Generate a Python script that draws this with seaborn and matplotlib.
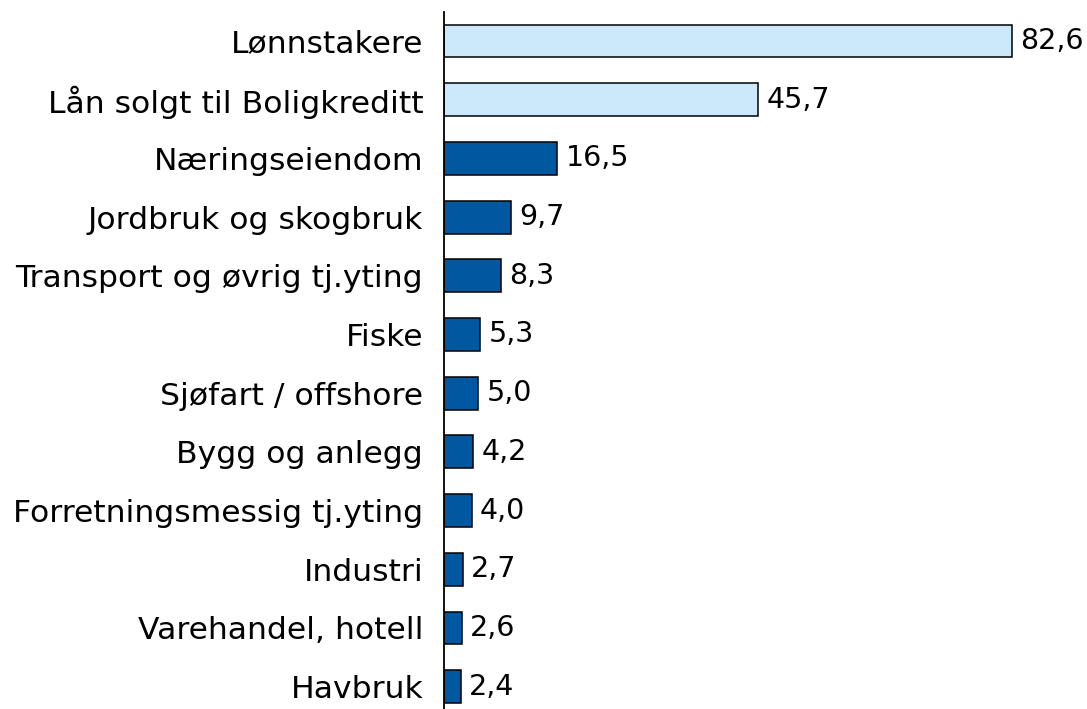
import matplotlib
matplotlib.use("Agg")
import matplotlib.pyplot as plt
import seaborn as sns
import pandas as pd

categories = ["Lønnstakere", "Lån solgt til Boligkreditt", "Næringseiendom",
              "Jordbruk og skogbruk", "Transport og øvrig tj.yting", "Fiske",
              "Sjøfart / offshore", "Bygg og anlegg", "Forretningsmessig tj.yting",
              "Industri", "Varehandel, hotell", "Havbruk"]
values = [82.6, 45.7, 16.5, 9.7, 8.3, 5.3, 5.0, 4.2, 4.0, 2.7, 2.6, 2.4]
groups = ["Personmarked"] * 2 + ["Bedriftsmarked"] * 10
labels = ["82,6", "45,7", "16,5", "9,7", "8,3", "5,3", "5,0", "4,2", "4,0", "2,7", "2,6", "2,4"]

df = pd.DataFrame({"kategori": categories, "verdi": values, "gruppe": groups})

sns.set_style("white")
plt.rcParams["font.family"] = ["DejaVu Sans"]

fig = plt.figure(figsize=(10.87, 7.09), dpi=100)
ax = fig.add_axes([444 / 1087, 0, 1 - 444 / 1087, (709 - 11.6) / 709])

sns.barplot(data=df, x="verdi", y="kategori", hue="gruppe", orient="h",
            palette={"Personmarked": "#CCE9FB", "Bedriftsmarked": "#0058A0"},
            saturation=1, dodge=False, width=0.56, edgecolor="black",
            linewidth=1.1, legend=False, ax=ax)

for i, (v, lab) in enumerate(zip(values, labels)):
    ax.text(v + 1.2, i, lab, va="center", ha="left", fontsize=20.5, color="black")

ax.set_xlim(0, 93.5)
ax.set_ylim(11.38, -0.5)
ax.set_xlabel("")
ax.set_ylabel("")
ax.set_xticks([])
for s in ["top", "right", "bottom"]:
    ax.spines[s].set_visible(False)
ax.spines["left"].set_color("black")
ax.spines["left"].set_linewidth(1.3)
ax.tick_params(axis="y", length=0, pad=15, labelsize=22.6, labelcolor="black")

fig.savefig("out.png", dpi=100)
